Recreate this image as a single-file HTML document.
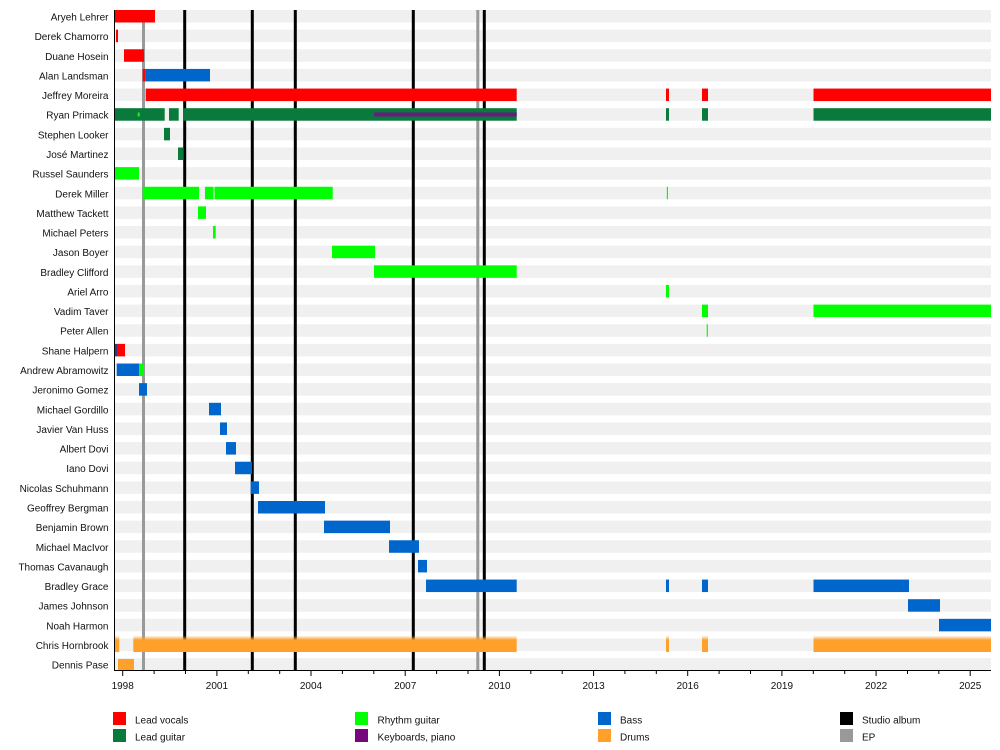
<!DOCTYPE html>
<html>
<head>
<meta charset="utf-8">
<style>
html,body{margin:0;padding:0;background:#fff;}
svg{display:block;}
text{font-family:"Liberation Sans",Arial,sans-serif;font-size:10px;fill:#111;}
</style>
</head>
<body>
<svg width="1000" height="750" viewBox="0 0 1000 750" xmlns="http://www.w3.org/2000/svg">
<defs>
<linearGradient id="drum" x1="0" y1="0" x2="0" y2="1">
<stop offset="0" stop-color="#ffa02a" stop-opacity="0"/>
<stop offset="0.28" stop-color="#ffa02a" stop-opacity="1"/>
<stop offset="1" stop-color="#ffa02a" stop-opacity="1"/>
</linearGradient>
</defs>

<!-- background bands -->
<g fill="#f0f0f0">
<rect x="115" y="10" width="876" height="12.5"/>
<rect x="115" y="29.64" width="876" height="12.5"/>
<rect x="115" y="49.28" width="876" height="12.5"/>
<rect x="115" y="68.92" width="876" height="12.5"/>
<rect x="115" y="88.56" width="876" height="12.5"/>
<rect x="115" y="108.2" width="876" height="12.5"/>
<rect x="115" y="127.84" width="876" height="12.5"/>
<rect x="115" y="147.48" width="876" height="12.5"/>
<rect x="115" y="167.12" width="876" height="12.5"/>
<rect x="115" y="186.76" width="876" height="12.5"/>
<rect x="115" y="206.4" width="876" height="12.5"/>
<rect x="115" y="226.04" width="876" height="12.5"/>
<rect x="115" y="245.68" width="876" height="12.5"/>
<rect x="115" y="265.32" width="876" height="12.5"/>
<rect x="115" y="284.96" width="876" height="12.5"/>
<rect x="115" y="304.6" width="876" height="12.5"/>
<rect x="115" y="324.24" width="876" height="12.5"/>
<rect x="115" y="343.88" width="876" height="12.5"/>
<rect x="115" y="363.52" width="876" height="12.5"/>
<rect x="115" y="383.16" width="876" height="12.5"/>
<rect x="115" y="402.8" width="876" height="12.5"/>
<rect x="115" y="422.44" width="876" height="12.5"/>
<rect x="115" y="442.08" width="876" height="12.5"/>
<rect x="115" y="461.72" width="876" height="12.5"/>
<rect x="115" y="481.36" width="876" height="12.5"/>
<rect x="115" y="501" width="876" height="12.5"/>
<rect x="115" y="520.64" width="876" height="12.5"/>
<rect x="115" y="540.28" width="876" height="12.5"/>
<rect x="115" y="559.92" width="876" height="12.5"/>
<rect x="115" y="579.56" width="876" height="12.5"/>
<rect x="115" y="599.2" width="876" height="12.5"/>
<rect x="115" y="618.84" width="876" height="12.5"/>
<rect x="115" y="638.48" width="876" height="12.5"/>
<rect x="115" y="658.12" width="876" height="12.5"/>
</g>

<!-- release lines -->
<g>
<rect x="142" y="10" width="3" height="660" fill="#999"/>
<rect x="476.3" y="10" width="3" height="660" fill="#999"/>
<rect x="183.2" y="10" width="3" height="660" fill="#000"/>
<rect x="250.8" y="10" width="3" height="660" fill="#000"/>
<rect x="293.8" y="10" width="3" height="660" fill="#000"/>
<rect x="411.8" y="10" width="3" height="660" fill="#000"/>
<rect x="482.8" y="10" width="3" height="660" fill="#000"/>
</g>

<!-- bars -->
<!-- 0 Aryeh Lehrer -->
<rect x="115" y="10" width="40" height="12.5" fill="#ff0000"/>
<!-- 1 Derek Chamorro -->
<rect x="116" y="29.64" width="2" height="12.5" fill="#ff0000"/>
<!-- 2 Duane Hosein -->
<rect x="124" y="49.28" width="20" height="12.5" fill="#ff0000"/>
<!-- 3 Alan Landsman -->
<rect x="142.7" y="68.92" width="3" height="12.5" fill="#ff0000"/>
<rect x="145.7" y="68.92" width="64.3" height="12.5" fill="#0066cc"/>
<!-- 4 Jeffrey Moreira -->
<g fill="#ff0000">
<rect x="145.7" y="88.56" width="371" height="12.5"/>
<rect x="666" y="88.56" width="3" height="12.5"/>
<rect x="702" y="88.56" width="6" height="12.5"/>
<rect x="813.5" y="88.56" width="177.5" height="12.5"/>
</g>
<!-- 5 Ryan Primack -->
<g fill="#097a3b">
<rect x="115" y="108.2" width="49.7" height="12.5"/>
<rect x="169" y="108.2" width="9.7" height="12.5"/>
<rect x="183" y="108.2" width="333.7" height="12.5"/>
<rect x="666" y="108.2" width="3" height="12.5"/>
<rect x="702" y="108.2" width="6" height="12.5"/>
<rect x="813.5" y="108.2" width="177.5" height="12.5"/>
</g>
<rect x="137.7" y="112.5" width="2" height="4" fill="#22ee22"/>
<rect x="374" y="112.5" width="142.7" height="4" fill="#6a1a82"/>
<!-- 6 Stephen Looker -->
<rect x="164" y="127.84" width="6" height="12.5" fill="#097a3b"/>
<!-- 7 José Martinez -->
<rect x="178" y="147.48" width="5.7" height="12.5" fill="#097a3b"/>
<!-- 8 Russel Saunders -->
<rect x="115" y="167.12" width="24" height="12.5" fill="#00ff00"/>
<!-- 9 Derek Miller -->
<g fill="#00ff00">
<rect x="142.7" y="186.76" width="56.3" height="12.5"/>
<rect x="205" y="186.76" width="8.5" height="12.5"/>
<rect x="214.5" y="186.76" width="118.2" height="12.5"/>
<rect x="666.8" y="186.76" width="1.2" height="12.5"/>
</g>
<!-- 10 Matthew Tackett -->
<rect x="198" y="206.4" width="8" height="12.5" fill="#00ff00"/>
<!-- 11 Michael Peters -->
<rect x="213" y="226.04" width="2.7" height="12.5" fill="#00ff00"/>
<!-- 12 Jason Boyer -->
<rect x="332" y="245.68" width="43" height="12.5" fill="#00ff00"/>
<!-- 13 Bradley Clifford -->
<rect x="374" y="265.32" width="142.7" height="12.5" fill="#00ff00"/>
<!-- 14 Ariel Arro -->
<rect x="666" y="284.96" width="3" height="12.5" fill="#00ff00"/>
<!-- 15 Vadim Taver -->
<rect x="702" y="304.6" width="6" height="12.5" fill="#00ff00"/>
<rect x="813.5" y="304.6" width="177.5" height="12.5" fill="#00ff00"/>
<!-- 16 Peter Allen -->
<rect x="706.7" y="324.24" width="1.2" height="12.5" fill="#00ff00"/>
<!-- 17 Shane Halpern -->
<rect x="115" y="343.88" width="2" height="12.5" fill="#3a3a7a"/>
<rect x="117" y="343.88" width="8" height="12.5" fill="#ff0000"/>
<!-- 18 Andrew Abramowitz -->
<rect x="116.7" y="363.52" width="22.3" height="12.5" fill="#0066cc"/>
<rect x="139" y="363.52" width="4.3" height="12.5" fill="#00ff00"/>
<!-- 19 Jeronimo Gomez -->
<rect x="139" y="383.16" width="8" height="12.5" fill="#0066cc"/>
<g fill="#0066cc">
<!-- 20 Michael Gordillo -->
<rect x="209" y="402.8" width="12" height="12.5"/>
<!-- 21 Javier Van Huss -->
<rect x="220" y="422.44" width="7" height="12.5"/>
<!-- 22 Albert Dovi -->
<rect x="226" y="442.08" width="10" height="12.5"/>
<!-- 23 Iano Dovi -->
<rect x="235" y="461.72" width="17" height="12.5"/>
<!-- 24 Nicolas Schuhmann -->
<rect x="250.7" y="481.36" width="8.3" height="12.5"/>
<!-- 25 Geoffrey Bergman -->
<rect x="258" y="501" width="67" height="12.5"/>
<!-- 26 Benjamin Brown -->
<rect x="324" y="520.64" width="66" height="12.5"/>
<!-- 27 Michael MacIvor -->
<rect x="389" y="540.28" width="30" height="12.5"/>
<!-- 28 Thomas Cavanaugh -->
<rect x="418" y="559.92" width="9" height="12.5"/>
<!-- 29 Bradley Grace -->
<rect x="426" y="579.56" width="90.7" height="12.5"/>
<rect x="666" y="579.56" width="3" height="12.5"/>
<rect x="702" y="579.56" width="6" height="12.5"/>
<rect x="813.5" y="579.56" width="95.5" height="12.5"/>
<!-- 30 James Johnson -->
<rect x="908" y="599.2" width="32" height="12.5"/>
<!-- 31 Noah Harmon -->
<rect x="939" y="618.84" width="52" height="12.5"/>
</g>
<!-- 32 Chris Hornbrook -->
<g fill="url(#drum)">
<rect x="115" y="635.5" width="4.3" height="16.5"/>
<rect x="133.3" y="635.5" width="383.4" height="16.5"/>
<rect x="666" y="635.5" width="3" height="16.5"/>
<rect x="702" y="635.5" width="6" height="16.5"/>
<rect x="813.5" y="635.5" width="177.5" height="16.5"/>
</g>
<!-- 33 Dennis Pase -->
<rect x="118" y="659" width="16" height="11" fill="#ffa02a"/>

<!-- axes -->
<line x1="114.5" y1="10" x2="114.5" y2="670.5" stroke="#000" stroke-width="1"/>
<line x1="114" y1="670.5" x2="991" y2="670.5" stroke="#000" stroke-width="1"/>
<g stroke="#000" stroke-width="1">
<line x1="122.7" y1="670" x2="122.7" y2="676"/>
<line x1="154.1" y1="670" x2="154.1" y2="674"/>
<line x1="185.5" y1="670" x2="185.5" y2="674"/>
<line x1="216.9" y1="670" x2="216.9" y2="676"/>
<line x1="248.3" y1="670" x2="248.3" y2="674"/>
<line x1="279.7" y1="670" x2="279.7" y2="674"/>
<line x1="311.0" y1="670" x2="311.0" y2="676"/>
<line x1="342.4" y1="670" x2="342.4" y2="674"/>
<line x1="373.8" y1="670" x2="373.8" y2="674"/>
<line x1="405.2" y1="670" x2="405.2" y2="676"/>
<line x1="436.6" y1="670" x2="436.6" y2="674"/>
<line x1="468.0" y1="670" x2="468.0" y2="674"/>
<line x1="499.4" y1="670" x2="499.4" y2="676"/>
<line x1="530.8" y1="670" x2="530.8" y2="674"/>
<line x1="562.2" y1="670" x2="562.2" y2="674"/>
<line x1="593.6" y1="670" x2="593.6" y2="676"/>
<line x1="624.9" y1="670" x2="624.9" y2="674"/>
<line x1="656.3" y1="670" x2="656.3" y2="674"/>
<line x1="687.7" y1="670" x2="687.7" y2="676"/>
<line x1="719.1" y1="670" x2="719.1" y2="674"/>
<line x1="750.5" y1="670" x2="750.5" y2="674"/>
<line x1="781.9" y1="670" x2="781.9" y2="676"/>
<line x1="813.3" y1="670" x2="813.3" y2="674"/>
<line x1="844.7" y1="670" x2="844.7" y2="674"/>
<line x1="876.1" y1="670" x2="876.1" y2="676"/>
<line x1="907.5" y1="670" x2="907.5" y2="674"/>
<line x1="938.8" y1="670" x2="938.8" y2="674"/>
<line x1="970.2" y1="670" x2="970.2" y2="676"/>
</g>
<g text-anchor="middle">
<text x="122.7" y="689">1998</text>
<text x="216.9" y="689">2001</text>
<text x="311.0" y="689">2004</text>
<text x="405.2" y="689">2007</text>
<text x="499.4" y="689">2010</text>
<text x="593.6" y="689">2013</text>
<text x="687.7" y="689">2016</text>
<text x="781.9" y="689">2019</text>
<text x="876.1" y="689">2022</text>
<text x="970.2" y="689">2025</text>
</g>

<!-- labels -->
<g text-anchor="end">
<text x="108.5" y="20.5">Aryeh Lehrer</text>
<text x="108.5" y="40.1">Derek Chamorro</text>
<text x="108.5" y="59.8">Duane Hosein</text>
<text x="108.5" y="79.4">Alan Landsman</text>
<text x="108.5" y="99.1">Jeffrey Moreira</text>
<text x="108.5" y="118.7">Ryan Primack</text>
<text x="108.5" y="138.3">Stephen Looker</text>
<text x="108.5" y="158.0">José Martinez</text>
<text x="108.5" y="177.6">Russel Saunders</text>
<text x="108.5" y="197.3">Derek Miller</text>
<text x="108.5" y="216.9">Matthew Tackett</text>
<text x="108.5" y="236.5">Michael Peters</text>
<text x="108.5" y="256.2">Jason Boyer</text>
<text x="108.5" y="275.8">Bradley Clifford</text>
<text x="108.5" y="295.5">Ariel Arro</text>
<text x="108.5" y="315.1">Vadim Taver</text>
<text x="108.5" y="334.7">Peter Allen</text>
<text x="108.5" y="354.4">Shane Halpern</text>
<text x="108.5" y="374.0">Andrew Abramowitz</text>
<text x="108.5" y="393.7">Jeronimo Gomez</text>
<text x="108.5" y="413.3">Michael Gordillo</text>
<text x="108.5" y="432.9">Javier Van Huss</text>
<text x="108.5" y="452.6">Albert Dovi</text>
<text x="108.5" y="472.2">Iano Dovi</text>
<text x="108.5" y="491.9">Nicolas Schuhmann</text>
<text x="108.5" y="511.5">Geoffrey Bergman</text>
<text x="108.5" y="531.1">Benjamin Brown</text>
<text x="108.5" y="550.8">Michael MacIvor</text>
<text x="108.5" y="570.4">Thomas Cavanaugh</text>
<text x="108.5" y="590.1">Bradley Grace</text>
<text x="108.5" y="609.7">James Johnson</text>
<text x="108.5" y="629.3">Noah Harmon</text>
<text x="108.5" y="649.0">Chris Hornbrook</text>
<text x="108.5" y="668.6">Dennis Pase</text>
</g>

<!-- legend -->
<rect x="113" y="712" width="13" height="13" fill="#ff0000"/>
<text x="135" y="723.5">Lead vocals</text>
<rect x="113" y="729" width="13" height="13" fill="#097a3b"/>
<text x="135" y="740.5">Lead guitar</text>
<rect x="355" y="712" width="13" height="13" fill="#00ff00"/>
<text x="377.5" y="723.5">Rhythm guitar</text>
<rect x="355" y="729" width="13" height="13" fill="#74087c"/>
<text x="377.5" y="740.5">Keyboards, piano</text>
<rect x="598" y="712" width="13" height="13" fill="#0066cc"/>
<text x="620" y="723.5">Bass</text>
<rect x="598" y="729" width="13" height="13" fill="#ffa02a"/>
<text x="620" y="740.5">Drums</text>
<rect x="840" y="712" width="13" height="13" fill="#000"/>
<text x="862" y="723.5">Studio album</text>
<rect x="840" y="729" width="13" height="13" fill="#999"/>
<text x="862" y="740.5">EP</text>
</svg>
</body>
</html>
